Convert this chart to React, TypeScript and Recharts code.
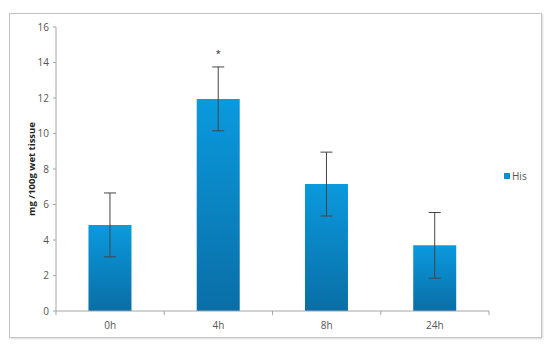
import * as React from 'react';
import { BarChart, Bar, XAxis, YAxis, ErrorBar, LabelList, Legend } from 'recharts';

const categories = ['0h', '4h', '8h', '24h'];
const hisValues = [4.85, 11.95, 7.15, 3.7];
const hisErrors = [1.8, 1.8, 1.8, 1.85];
const significance = ['', '*', '', ''];
const yTicks = [0, 2, 4, 6, 8, 10, 12, 14, 16];

const data = categories.map((c, i) => ({ time: c, his: hisValues[i], err: hisErrors[i], sig: significance[i] }));

const W = 550;
const H = 348;
const MARGIN = { top: 27, right: 61, bottom: 17, left: 10 };
const Y_AXIS_W = 46;
const PLOT_W = W - MARGIN.left - MARGIN.right - Y_AXIS_W;
const FONT = '"Open Sans", "Liberation Sans", sans-serif';
const AXIS_COLOR = '#a6a6a6';

const XTick = (props: any) => {
    const { x, y, payload, index } = props;
    const half = PLOT_W / categories.length / 2;
    const y0 = y - 10;
    return (
        <g>
            <line x1={x - half} y1={y0} x2={x - half} y2={y0 + 4} stroke={AXIS_COLOR} />
            {index === categories.length - 1 && (
                <line x1={x + half} y1={y0} x2={x + half} y2={y0 + 4} stroke={AXIS_COLOR} />
            )}
            <text x={x} y={y0 + 18} textAnchor="middle" fontSize={10} fill="#555" fontFamily={FONT}>
                {payload.value}
            </text>
        </g>
    );
};

const LegendContent = () => (
    <div style={{ display: 'flex', alignItems: 'center', fontFamily: FONT, fontSize: 10, color: '#555' }}>
        <span style={{ width: 6, height: 6, background: '#0a8fd3', display: 'inline-block', marginRight: 2 }} />
        <span>His</span>
    </div>
);

const App: React.FC = () => {
    return (
        <div style={{ position: 'absolute', left: 0, top: 0, width: W, height: H, background: '#fff' }}>
            <div style={{
                position: 'absolute', left: 9, top: 13, width: 531, height: 323,
                border: '1px solid #c4c4c4', boxShadow: '1px 1px 2px rgba(0,0,0,0.15)'
            }} />
            <div style={{ position: 'absolute', left: 0, top: 0 }}>
                <BarChart width={W} height={H} data={data} margin={MARGIN} barCategoryGap="30%">
                    <defs>
                        <linearGradient id="hisFill" x1="0" y1="0" x2="0" y2="1">
                            <stop offset="0%" stopColor="#0a9ade" />
                            <stop offset="100%" stopColor="#0a6ea6" />
                        </linearGradient>
                    </defs>
                    <XAxis
                        dataKey="time"
                        stroke={AXIS_COLOR}
                        tickLine={false}
                        tickSize={0}
                        tickMargin={10}
                        height={20}
                        tick={<XTick />}
                        interval={0}
                    />
                    <YAxis
                        domain={[0, 16]}
                        ticks={yTicks}
                        width={Y_AXIS_W}
                        stroke={AXIS_COLOR}
                        tickSize={3}
                        tickMargin={4}
                        tick={{ fontSize: 10, fill: '#555', fontFamily: FONT }}
                        label={{
                            content: (p: any) => {
                                const vb = p.viewBox;
                                const cx = 31;
                                const cy = vb.y + vb.height / 2;
                                return (
                                    <text x={cx} y={cy} transform={`rotate(-90 ${cx} ${cy})`} textAnchor="middle"
                                        dominantBaseline="central" fontSize={9.5} fontWeight="bold" fill="#222" fontFamily={FONT}>
                                        mg /100g wet tissue
                                    </text>
                                );
                            }
                        }}
                    />
                    <Legend
                        layout="horizontal"
                        verticalAlign="middle"
                        align="center"
                        content={<LegendContent />}
                        wrapperStyle={{ left: 504, top: 169, width: 40 }}
                    />
                    <Bar dataKey="his" name="His" fill="url(#hisFill)" isAnimationActive={false}>
                        <ErrorBar dataKey="err" width={6} stroke="#444" strokeWidth={1} direction="y" />
                        <LabelList
                            dataKey="sig"
                            content={(p: any) => {
                                if (!p.value) return null;
                                return (
                                    <text x={Number(p.x) + Number(p.width) / 2} y={Number(p.y) - 42} textAnchor="middle"
                                        fontSize={9} fill="#222" fontFamily={FONT}>
                                        {p.value}
                                    </text>
                                );
                            }}
                        />
                    </Bar>
                </BarChart>
            </div>
        </div>
    );
};

export default App;
